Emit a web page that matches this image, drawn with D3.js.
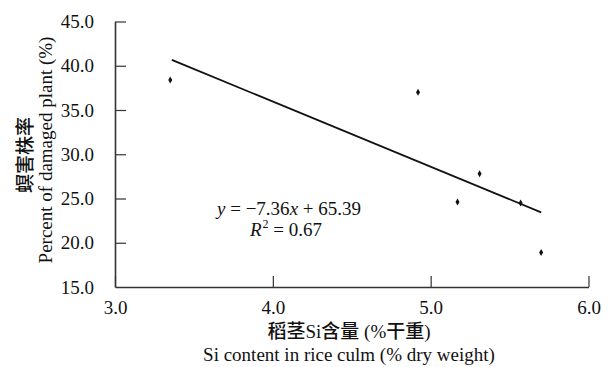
<!DOCTYPE html>
<html><head><meta charset="utf-8">
<script src="https://cdn.jsdelivr.net/npm/d3@7"></script>
<style>
html,body{margin:0;padding:0;background:#fff;}
svg{display:block;}
</style></head>
<body>
<script>
const siContent = [3.35, 4.92, 5.17, 5.31, 5.57, 5.70];
const damagedPct = [38.4, 37.0, 24.6, 27.8, 24.5, 18.9];
const xTicks = [3.0, 4.0, 5.0, 6.0];
const yTicks = [15.0, 20.0, 25.0, 30.0, 35.0, 40.0, 45.0];
const fitSlope = -7.36, fitIntercept = 65.39, fitR2 = 0.67;
const fitRange = [3.36, 5.70];

const W = 610, H = 367;
const svg = d3.select("body").append("svg").attr("width", W).attr("height", H);
const x = d3.scaleLinear().domain([3, 6]).range([115, 588.5]);
const y = d3.scaleLinear().domain([15, 45]).range([287, 21.5]);
const serif = "'Liberation Serif','Times New Roman',serif";
const cjk = "'Noto Sans CJK SC',sans-serif";
const axisColor = "#333";

// x axis
const gx = svg.append("g").attr("transform", `translate(0,${y(15)})`)
  .call(d3.axisBottom(x).tickValues(xTicks).tickSize(-11).tickSizeOuter(0).tickPadding(14).tickFormat(d3.format(".1f")));
gx.select(".domain").attr("stroke", axisColor).attr("stroke-width", 1.6);
gx.selectAll(".tick line").attr("stroke", axisColor).attr("stroke-width", 1.2);
gx.selectAll(".tick text").attr("font-family", serif).attr("font-size", 19).attr("fill", "#111");

// y axis
const gy = svg.append("g").attr("transform", `translate(${x(3)},0)`)
  .call(d3.axisLeft(y).tickValues(yTicks).tickSize(-11).tickSizeOuter(0).tickPadding(21).tickFormat(d3.format(".1f")));
gy.select(".domain").attr("stroke", axisColor).attr("stroke-width", 1.6);
gy.selectAll(".tick line").attr("stroke", axisColor).attr("stroke-width", 1.2);
gy.selectAll(".tick text").attr("font-family", serif).attr("font-size", 19).attr("fill", "#111");
gy.selectAll(".tick").filter(d => d === 15).select("line").remove();

// regression line
svg.append("line")
  .attr("x1", x(fitRange[0])).attr("y1", y(fitSlope * fitRange[0] + fitIntercept))
  .attr("x2", x(fitRange[1])).attr("y2", y(fitSlope * fitRange[1] + fitIntercept))
  .attr("stroke", "#111").attr("stroke-width", 1.8);

// points
svg.append("g").selectAll("path").data(siContent.map((v, i) => [v, damagedPct[i]]))
  .join("path")
  .attr("d", d3.symbol(d3.symbolDiamond, 14))
  .attr("transform", d => `translate(${x(d[0])},${y(d[1])})`)
  .attr("fill", "#111");

// equation
const eq = svg.append("text").attr("x", 217).attr("y", 215)
  .attr("font-family", serif).attr("font-size", 19).attr("fill", "#111");
eq.append("tspan").attr("font-style", "italic").text("y");
eq.append("tspan").text(" = \u22127.36");
eq.append("tspan").attr("font-style", "italic").text("x");
eq.append("tspan").text(" + 65.39");
const r2 = svg.append("text").attr("x", 250).attr("y", 236)
  .attr("font-family", serif).attr("font-size", 19).attr("fill", "#111");
r2.append("tspan").attr("font-style", "italic").text("R");
r2.append("tspan").attr("font-size", 12).attr("dx", 1).attr("dy", -8).text("2");
r2.append("tspan").attr("dy", 8).text(" = " + fitR2.toFixed(2));

// x titles
svg.append("text").attr("x", 349).attr("y", 338).attr("text-anchor", "middle")
  .attr("fill", "#111").attr("font-size", 19)
  .call(t => {
    t.append("tspan").attr("font-family", cjk).attr("font-weight", 500).text("稻茎");
    t.append("tspan").attr("font-family", serif).text("Si");
    t.append("tspan").attr("font-family", cjk).attr("font-weight", 500).text("含量");
    t.append("tspan").attr("font-family", serif).text(" (%");
    t.append("tspan").attr("font-family", cjk).attr("font-weight", 500).text("干重");
    t.append("tspan").attr("font-family", serif).text(")");
  });
svg.append("text").attr("x", 349).attr("y", 361).attr("text-anchor", "middle")
  .attr("font-family", serif).attr("font-size", 19).attr("fill", "#111")
  .text("Si content in rice culm (% dry weight)");

// y titles
svg.append("text").attr("transform", "translate(32,155) rotate(-90)").attr("text-anchor", "middle")
  .attr("font-family", cjk).attr("font-weight", 500).attr("font-size", 19).attr("fill", "#111")
  .text("螟害株率");
svg.append("text").attr("transform", "translate(52,150) rotate(-90)").attr("text-anchor", "middle")
  .attr("font-family", serif).attr("font-size", 19).attr("fill", "#111")
  .text("Percent of damaged plant (%)");
</script>
</body></html>
